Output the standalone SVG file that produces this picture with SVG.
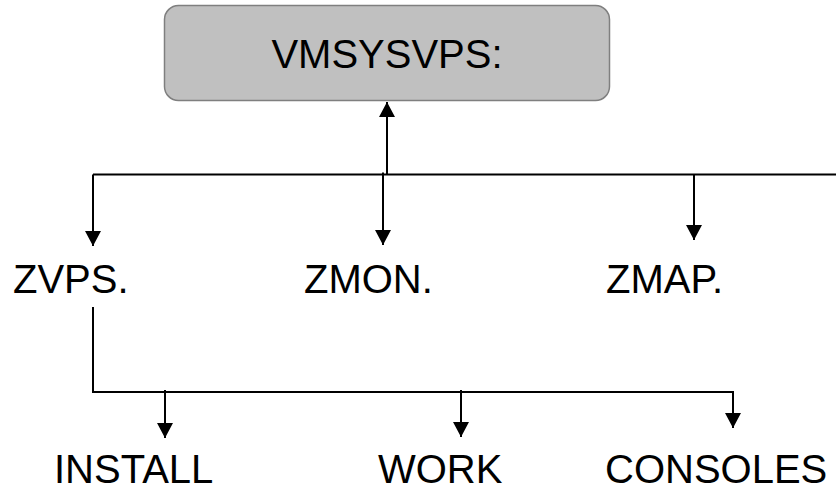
<svg xmlns="http://www.w3.org/2000/svg" width="836" height="487" viewBox="0 0 836 487">
<style>
.lbl{font-family:"Liberation Sans",Arial,sans-serif;font-size:40px;fill:#000}
.ln{stroke:#000;stroke-width:2;fill:none}
</style>
<defs>
<marker id="ah" markerUnits="userSpaceOnUse" markerWidth="16" markerHeight="16" viewBox="0 0 15 16" refX="15" refY="8" orient="auto">
<path d="M0,0 L15,8 L0,16 z" fill="#000"/>
</marker>
</defs>
<g id="root">
<rect x="164.5" y="5.5" width="445" height="95" rx="14" ry="14" fill="#c0c0c0" stroke="#7f7f7f" stroke-width="1.5"/>
<text class="lbl" x="387" y="68" text-anchor="middle">VMSYSVPS:</text>
</g>
<g id="zvps"><text class="lbl" x="13" y="293">ZVPS.</text></g>
<g id="zmon"><text class="lbl" x="304" y="293">ZMON.</text></g>
<g id="zmap"><text class="lbl" x="606" y="293">ZMAP.</text></g>
<g id="install"><text class="lbl" x="54" y="483">INSTALL</text></g>
<g id="work"><text class="lbl" x="378" y="483">WORK</text></g>
<g id="consoles"><text class="lbl" x="605" y="483">CONSOLES</text></g>
<g id="connectors">
<path class="ln" d="M387,174 L387,102" marker-end="url(#ah)"/>
<path class="ln" d="M93,174.5 L836,174.5"/>
<path class="ln" d="M93,174.5 L93,246" marker-end="url(#ah)"/>
<path class="ln" d="M383,172.5 L383,245" marker-end="url(#ah)"/>
<path class="ln" d="M694,174.5 L694,240" marker-end="url(#ah)"/>
<path class="ln" d="M93,307 L93,392 L733,392 L733,428" marker-end="url(#ah)"/>
<path class="ln" d="M165,390 L165,438" marker-end="url(#ah)"/>
<path class="ln" d="M461,390 L461,437" marker-end="url(#ah)"/>
</g>
</svg>
